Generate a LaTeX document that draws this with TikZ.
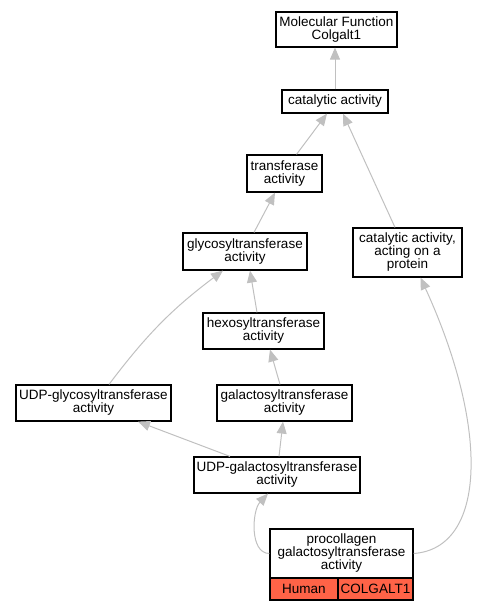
\documentclass[tikz,border=0pt]{standalone}
\usepackage{fontspec}
\setmainfont{Liberation Sans}
\usetikzlibrary{arrows.meta}
\definecolor{edgegray}{HTML}{C0C0C0}
\definecolor{orthored}{HTML}{FF6347}

\begin{document}
\begin{tikzpicture}[
    x=1pt, y=-1pt,
    term/.style={rectangle, draw=black, line width=1.2pt, fill=white, align=center, inner sep=0pt, font=\fontsize{13.5}{13}\selectfont},
    gene/.style={term, fill=orthored},
    isa/.style={draw=edgegray, line width=1pt, -{Triangle[length=12pt, width=10pt]}}
]
    \useasboundingbox (0,0) rectangle (478,611);

    % Root and top terms
    \node[term, minimum width=121pt, minimum height=35pt] (mf) at (336.5, 29.5) {Molecular Function\\Colgalt1};
    \node[term, minimum width=106pt, minimum height=23pt] (cat) at (335, 101.5) {catalytic activity};
    \node[term, minimum width=75pt, minimum height=37pt] (trans) at (284.5, 173.5) {transferase\\activity};
    \node[term, minimum width=109pt, minimum height=49pt] (protein) at (407.5, 252.5) {catalytic activity,\\acting on a\\protein};

    % Glycosyltransferase branch
    \node[term, minimum width=124pt, minimum height=37pt] (glyco) at (245, 251.5) {glycosyltransferase\\activity};
    \node[term, minimum width=121pt, minimum height=36pt] (hexo) at (263.5, 331) {hexosyltransferase\\activity};
    \node[term, minimum width=155pt, minimum height=36pt] (udpgly) at (93.5, 403) {UDP-glycosyltransferase\\activity};
    \node[term, minimum width=135pt, minimum height=36pt] (galacto) at (284.5, 403) {galactosyltransferase\\activity};
    \node[term, minimum width=166pt, minimum height=36pt] (udpgal) at (277, 475) {UDP-galactosyltransferase\\activity};

    % Annotated term with gene row
    \node[term, minimum width=143pt, minimum height=49pt] (proc) at (341.5, 553.5) {procollagen\\galactosyltransferase\\activity};
    \node[gene, minimum width=68pt, minimum height=22pt] (human) at (304, 589) {Human};
    \node[gene, minimum width=75pt, minimum height=22pt] (colgalt) at (375.5, 589) {COLGALT1};

    % is_a edges
    \draw[isa] (cat.north) -- (cat.north |- mf.south);
    \draw[isa] ([xshift=12pt]trans.north) -- ([xshift=-8pt]cat.south);
    \draw[isa] ([xshift=-12.5pt]protein.north) -- ([xshift=8pt]cat.south);
    \draw[isa] ([xshift=9pt]glyco.north) -- ([xshift=-9.5pt]trans.south);
    \draw[isa] ([xshift=-6.5pt]hexo.north) -- ([xshift=5pt]glyco.south);
    \draw[isa] ([xshift=15.5pt]udpgly.north) to[bend left=8] ([xshift=-22pt]glyco.south);
    \draw[isa] ([xshift=-4.5pt]galacto.north) -- ([xshift=6.5pt]hexo.south);
    \draw[isa] ([xshift=2pt]udpgal.north) -- ([xshift=-1.5pt]galacto.south);
    \draw[isa] ([xshift=-47pt]udpgal.north) -- ([xshift=44.5pt]udpgly.south);
    \draw[isa] (proc.west) .. controls +(-20,0) and +(-16,17) .. ([xshift=-9pt]udpgal.south);
    \draw[isa] (proc.east) .. controls +(72,-5) and +(70,153) .. ([xshift=13pt]protein.south);

\end{tikzpicture}
\end{document}
